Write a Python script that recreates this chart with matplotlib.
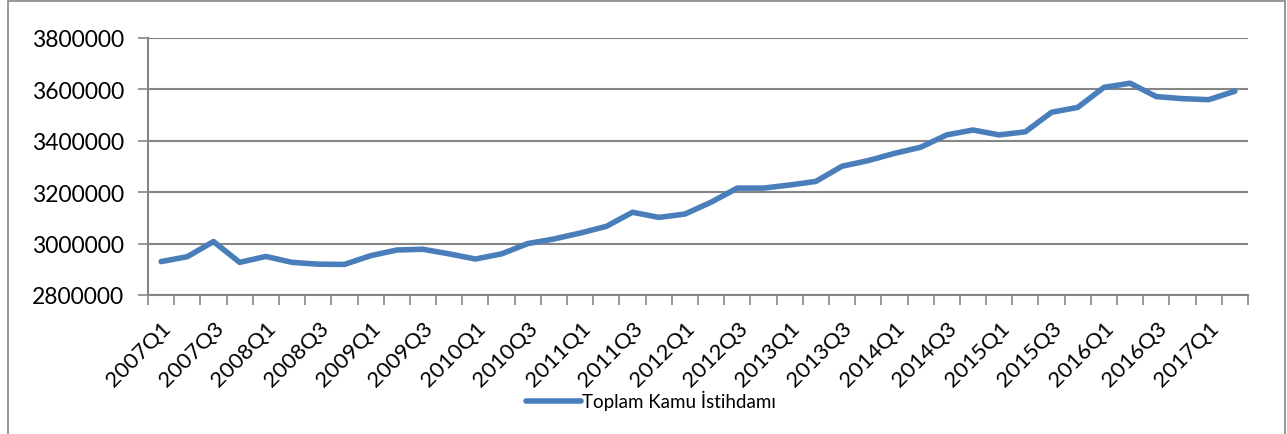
import matplotlib.pyplot as plt
from matplotlib.patches import Rectangle

plt.rcParams["font.family"] = ["Lato", "DejaVu Sans"]

years = list(range(2007, 2018))
quarters = [f"{y}Q{q}" for y in years for q in range(1, 5)][:42]

kamu = [
    2930000, 2949000, 3008000, 2927000, 2950000, 2927000, 2920000, 2919000,
    2953000, 2975000, 2978000, 2960000, 2940000, 2960000, 3000000, 3018000,
    3041000, 3067000, 3122000, 3102000, 3115000, 3161000, 3216000, 3216000,
    3228000, 3242000, 3301000, 3323000, 3351000, 3375000, 3423000, 3442000,
    3423000, 3435000, 3511000, 3530000, 3608000, 3624000, 3572000, 3564000,
    3560000, 3593000,
]
y_ticks = [2800000, 3000000, 3200000, 3400000, 3600000, 3800000]

GRAY = "#868686"
BLUE = "#4A7EBB"

fig = plt.figure(figsize=(12.87, 4.35), dpi=100)
ax = fig.add_axes([148 / 1287, 1 - 296 / 435, 1100 / 1287, 257 / 435])

x = list(range(len(kamu)))
ax.plot(x, kamu, color=BLUE, linewidth=4.0, solid_capstyle="round",
        solid_joinstyle="round", label="Toplam Kamu İstihdamı", zorder=3)

ax.set_xlim(-0.5, len(kamu) - 0.5)
ax.set_ylim(y_ticks[0], y_ticks[-1])
ax.set_yticks(y_ticks)
ax.set_yticklabels([str(v) for v in y_ticks], fontsize=16.5)
ax.yaxis.grid(True, color=GRAY, linewidth=1.5)
ax.set_axisbelow(True)

# ticks between categories, labels every other quarter
ax.set_xticks([i - 0.5 for i in range(len(kamu) + 1)])
ax.set_xticklabels([])
ax.set_xticks(x[::2], minor=True)
ax.set_xticklabels(quarters[::2], minor=True, rotation=45, ha="right",
                   va="top", rotation_mode="anchor", fontsize=16)
ax.tick_params(axis="x", which="major", length=7, width=1.2, color=GRAY,
               direction="out")
ax.tick_params(axis="x", which="minor", length=0, pad=16)
ax.tick_params(axis="y", length=7, width=1.2, color=GRAY, pad=10)

for side in ["top", "right"]:
    ax.spines[side].set_visible(False)
for side in ["left", "bottom"]:
    ax.spines[side].set_color(GRAY)
    ax.spines[side].set_linewidth(1.5)

fig.legend(loc="center", bbox_to_anchor=(0.506, 0.078), frameon=False,
           fontsize=13.5, handlelength=2.9, handletextpad=0.1)

fig.patches.append(Rectangle((8 / 1287, -0.1), 1277 / 1287, 1.1 - 2 / 435,
                             transform=fig.transFigure, fill=False,
                             edgecolor=GRAY, linewidth=1.2))

fig.savefig("out.png", dpi=100)
